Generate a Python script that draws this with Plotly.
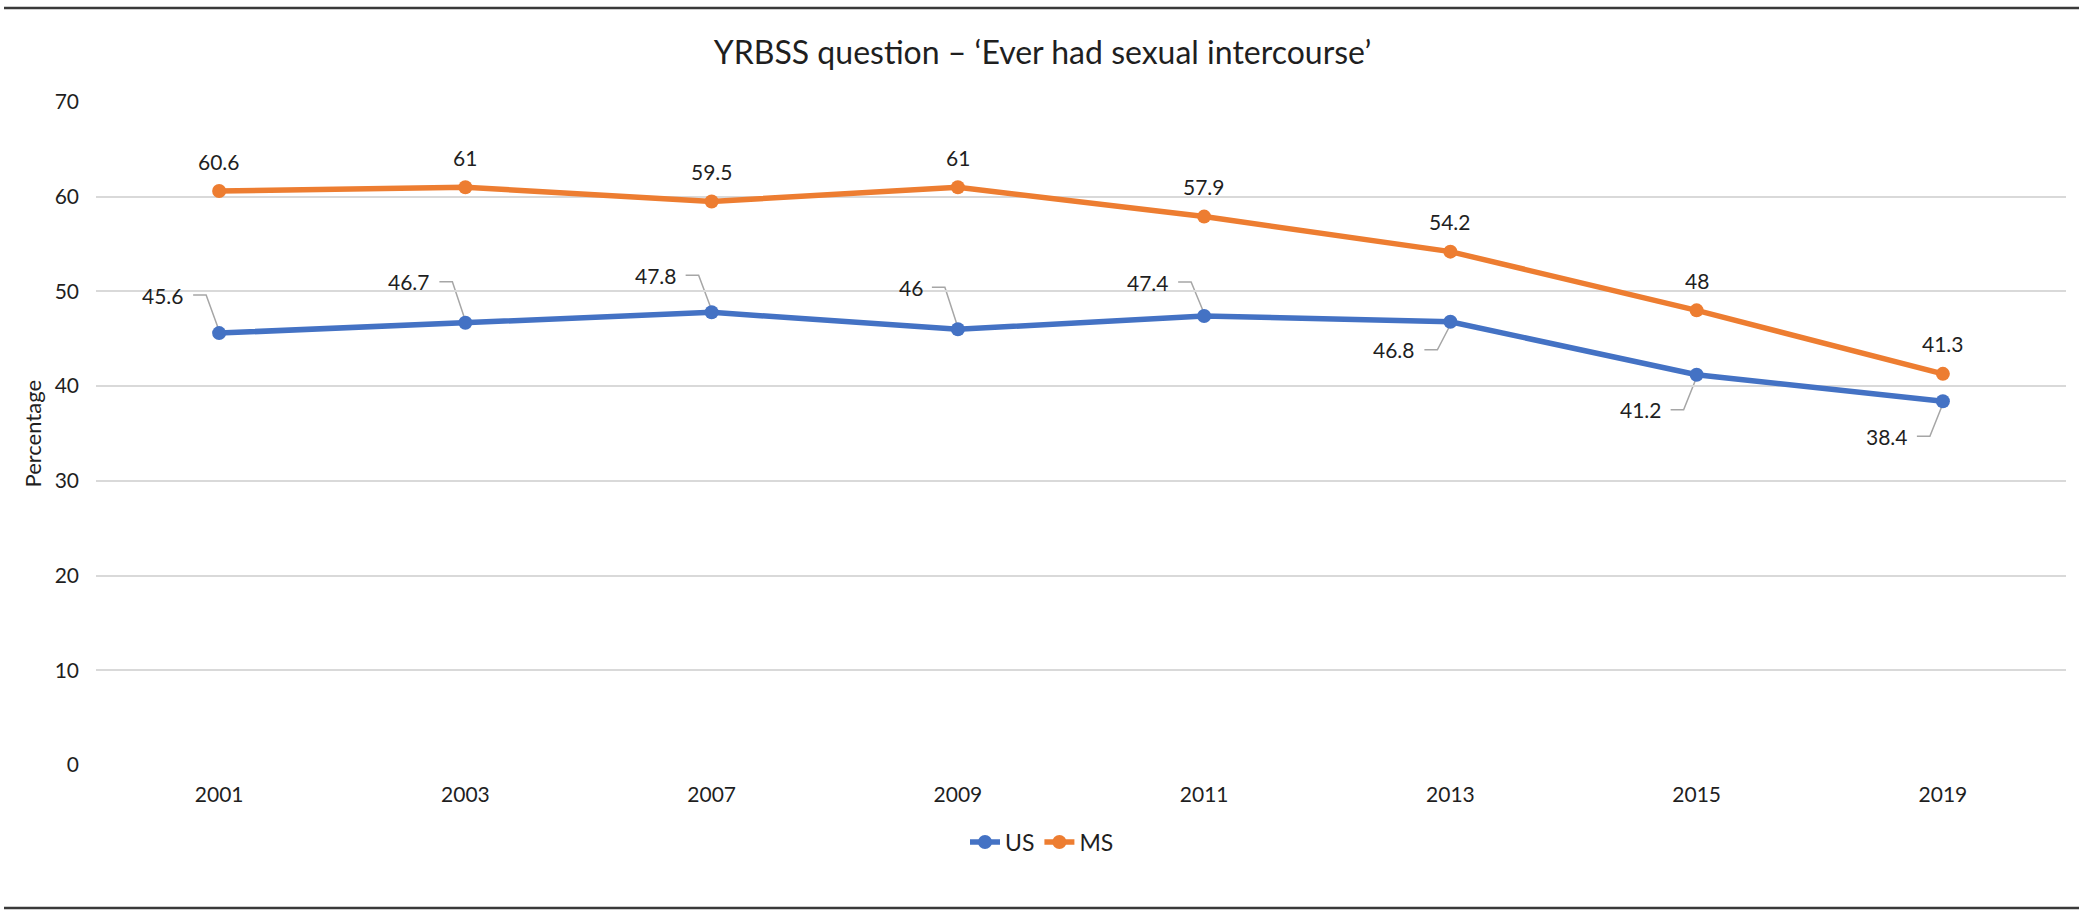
import plotly.graph_objects as go

years = ["2001", "2003", "2007", "2009", "2011", "2013", "2015", "2019"]
us = [45.6, 46.7, 47.8, 46, 47.4, 46.8, 41.2, 38.4]
ms = [60.6, 61, 59.5, 61, 57.9, 54.2, 48, 41.3]
y_ticks = [0, 10, 20, 30, 40, 50, 60, 70]

# label placement for US labels (pixel offsets, positive = above)
us_label_dy = [38, 41, 37, 42, 34, -28, -35, -35]

W, H = 2085, 915
ML, MR, MT, MB = 96, 19, 102, 150
PW, PH = W - ML - MR, H - MT - MB

FONT = "Lato"
FS = 21
TXT = "#1f1f1f"
BLUE = "#4472C4"
ORANGE = "#ED7D31"
idx = list(range(len(years)))

fig = go.Figure()
fig.add_trace(go.Scatter(x=idx, y=us, name="US", mode="lines+markers",
                         line=dict(color=BLUE, width=5.5),
                         marker=dict(color=BLUE, size=14)))
fig.add_trace(go.Scatter(x=idx, y=ms, name="MS", mode="lines+markers",
                         line=dict(color=ORANGE, width=5.5),
                         marker=dict(color=ORANGE, size=14)))

annotations = []
shapes = []
for i, v in zip(idx, ms):
    annotations.append(dict(x=i, y=v, xref="x", yref="y", text=str(v), showarrow=False,
                            xanchor="center", yanchor="middle", yshift=30,
                            font=dict(family=FONT, size=FS, color=TXT)))
for i, v, dy in zip(idx, us, us_label_dy):
    annotations.append(dict(x=i, y=v, xref="x", yref="y", text=str(v), showarrow=False,
                            xanchor="right", yanchor="middle", xshift=-33, yshift=dy,
                            font=dict(family=FONT, size=FS, color=TXT)))
    s = 1 if dy > 0 else -1
    shapes.append(dict(type="path", xref="x", yref="y", xsizemode="pixel", ysizemode="pixel",
                       xanchor=i, yanchor=v,
                       path=f"M -26,{dy} L -13,{dy} L -1,{s * 5}",
                       line=dict(color="#A6A6A6", width=1.5), layer="below"))

# y axis title
annotations.append(dict(x=(32 - ML) / PW, y=0.5, xref="paper", yref="paper", text="Percentage",
                        textangle=-90, showarrow=False, xanchor="center", yanchor="middle",
                        font=dict(family=FONT, size=22, color=TXT)))

# top and bottom rules
for py in (8, 908):
    yy = (H - MB - py) / PH
    shapes.append(dict(type="line", xref="paper", yref="paper",
                       x0=(4 - ML) / PW, x1=(2079 - ML) / PW, y0=yy, y1=yy,
                       line=dict(color="#3a3a3a", width=2.5)))

fig.update_layout(
    width=W, height=H,
    margin=dict(l=ML, r=MR, t=MT, b=MB),
    paper_bgcolor="white", plot_bgcolor="white",
    font=dict(family=FONT, size=FS, color=TXT),
    title=dict(text="YRBSS question \u2013 \u2018Ever had sexual intercourse\u2019",
               x=0.5, xref="container", xanchor="center",
               y=1 - 53 / H, yref="container", yanchor="middle",
               font=dict(family=FONT, size=32, color=TXT)),
    xaxis=dict(tickmode="array", tickvals=idx, ticktext=years, range=[-0.5, len(years) - 0.5],
               showgrid=False, zeroline=False, showline=False, ticks="",
               ticklabelstandoff=15, tickfont=dict(size=FS, color=TXT)),
    yaxis=dict(range=[0, 70], tickvals=y_ticks, showgrid=True, gridcolor="#D9D9D9", gridwidth=1.5,
               zeroline=False, showline=False, ticks="", ticklabelstandoff=16,
               tickfont=dict(size=FS, color=TXT)),
    legend=dict(orientation="h", x=(1042 - ML) / PW, xanchor="center",
                y=(H - MB - 842) / PH, yanchor="middle",
                font=dict(family=FONT, size=23, color=TXT)),
    annotations=annotations,
    shapes=shapes,
    showlegend=True,
)

fig.write_html("out.html", config={"displayModeBar": False},
               post_script="document.body.style.margin='0';")
